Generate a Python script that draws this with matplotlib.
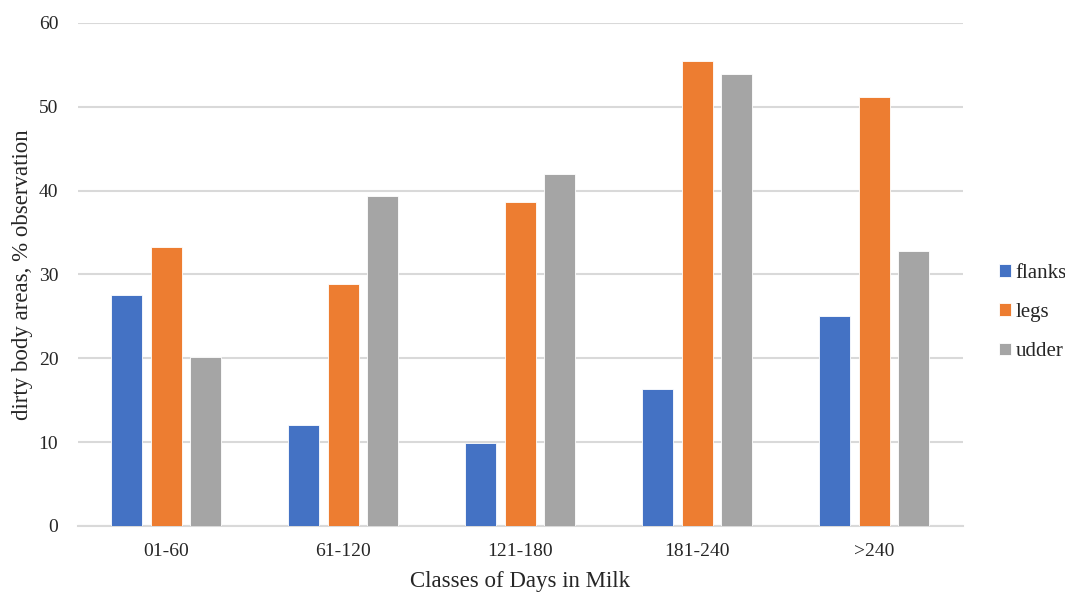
import matplotlib
matplotlib.use("Agg")
import matplotlib.pyplot as plt
import numpy as np

categories = ["01-60", "61-120", "121-180", "181-240", ">240"]
flanks = [27.6, 12.1, 9.9, 16.3, 25.0]
legs = [33.3, 28.8, 38.6, 55.5, 51.2]
udder = [20.1, 39.3, 42.0, 53.9, 32.8]
series_names = ["flanks", "legs", "udder"]
colors = ["#4472C4", "#ED7D31", "#A5A5A5"]

plt.rcParams["font.family"] = ["Liberation Serif", "DejaVu Serif"]

fig = plt.figure(figsize=(10.65, 5.92), dpi=100)
ax = fig.add_axes([0.073, 0.1115, 0.831, 0.85])

x = np.arange(len(categories))
w = 0.175
off = 0.222
for i, (vals, name, c) in enumerate(zip([flanks, legs, udder], series_names, colors)):
    ax.bar(x + (i - 1) * off, vals, w, color=c, label=name, edgecolor="white",
           linewidth=0.6, zorder=3)

ax.set_xlim(-0.5, 4.5)
ax.set_ylim(0, 60)
ax.set_yticks(range(0, 61, 10))
ax.set_xticks(x)
ax.set_xticklabels(categories)
ax.tick_params(axis="both", length=0, labelsize=14, colors="#262626")
ax.tick_params(axis="y", pad=14)
ax.tick_params(axis="x", pad=12)
ax.grid(axis="y", color="#d9d9d9", linewidth=1.5, zorder=0)
for s in ["top", "right", "left"]:
    ax.spines[s].set_visible(False)
ax.spines["bottom"].set_color("#d9d9d9")
ax.spines["bottom"].set_linewidth(1.5)

ax.set_ylabel("dirty body areas, % observation", fontsize=16.5, color="#262626")
ax.yaxis.set_label_coords(-0.051, 0.5)
ax.set_xlabel("Classes of Days in Milk", fontsize=16.5, color="#262626", labelpad=8)

leg = ax.legend(loc="center left", bbox_to_anchor=(1.02, 0.424), frameon=False,
                fontsize=15, handlelength=0.55, handleheight=0.55, handletextpad=0.25,
                labelspacing=0.97)
for t in leg.get_texts():
    t.set_color("#262626")

fig.savefig("out.png", dpi=100)
